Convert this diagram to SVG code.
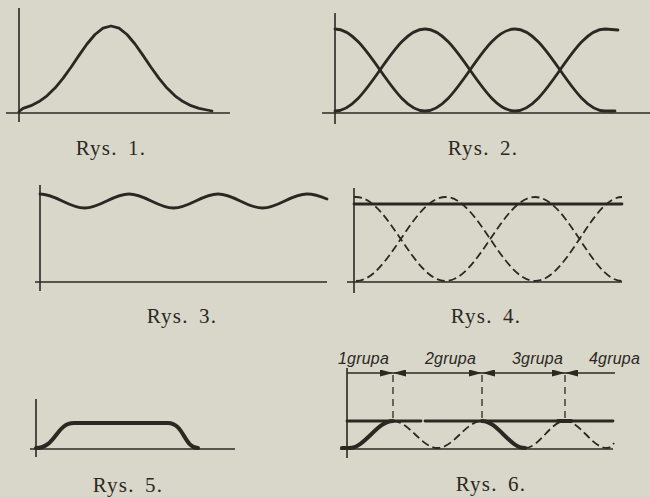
<svg xmlns="http://www.w3.org/2000/svg" width="650" height="497" viewBox="0 0 650 497">
<style>
.bg{fill:#d9d7ca}
.ax{stroke:#2b2823;stroke-width:1.6;fill:none}
.cv{stroke:#2b2823;stroke-width:2.8;fill:none;stroke-linejoin:round;stroke-linecap:round}
.th{stroke:#2b2823;stroke-width:4;fill:none;stroke-linecap:round}
.ds{stroke:#2b2823;stroke-width:1.8;fill:none;stroke-dasharray:8 4}
.dv{stroke:#2b2823;stroke-width:1.3;fill:none;stroke-dasharray:7 5}
.cap{font-family:"Liberation Serif",serif;font-size:21px;fill:#2b2823;text-anchor:middle;letter-spacing:1.2px;word-spacing:4px}
.gr{font-family:"Liberation Sans",sans-serif;font-style:italic;font-size:16px;fill:#2b2823;letter-spacing:0.2px}
</style>
<defs>
<marker id="ah" markerUnits="userSpaceOnUse" markerWidth="13" markerHeight="7" refX="13" refY="3.5" orient="auto">
<path d="M0,0 L13,3.5 L0,7 z" fill="#2b2823"/>
</marker>
</defs>
<rect class="bg" x="0" y="0" width="650" height="497"/>

<g id="rys1">
<line class="ax" x1="19" y1="8" x2="19" y2="122"/>
<line class="ax" x1="6" y1="113" x2="230" y2="113"/>
<path class="cv" d="M19,111.5 L23,108.4 L31,105.7 L39,101.6 L47,95.8 L55,88.1 L63,78.4 L71,67.2 L79,55.4 L87,44 L95,34.5 L103,28.2 L111,26 L119,28.2 L127,34.5 L135,44 L143,55.4 L151,67.2 L159,78.4 L167,88.1 L175,95.8 L183,101.6 L191,105.7 L199,108.4 L207,110 L212,111"/>
<text class="cap" x="111" y="155">Rys. 1.</text>
</g>

<g id="rys2">
<line class="ax" x1="335" y1="13" x2="335" y2="124"/>
<line class="ax" x1="322" y1="113" x2="650" y2="113"/>
<path class="cv" d="M335,29 C367.7,29 392.3,111 425,111 S482.3,29 515,29 S572.3,111 605,111 L615,111"/>
<path class="cv" d="M335,111 C367.7,111 392.3,29 425,29 S482.3,111 515,111 S572.3,29 605,29 L618,30"/>
<text class="cap" x="483" y="155">Rys. 2.</text>
</g>

<g id="rys3">
<line class="ax" x1="40" y1="185" x2="40" y2="291"/>
<line class="ax" x1="35" y1="282" x2="327" y2="282"/>
<path class="cv" d="M40,194 C56.2,194 68.3,208 84.5,208 S112.8,194 129,194 S157.3,208 173.5,208 S201.8,194 218,194 S246.3,208 262.5,208 S290.8,194 307,194 C314,194 320,196 327,199"/>
<text class="cap" x="182" y="323">Rys. 3.</text>
</g>

<g id="rys4">
<line class="ax" x1="354" y1="188" x2="354" y2="293"/>
<line class="ax" x1="347" y1="282" x2="622" y2="282"/>
<line class="cv" x1="354" y1="204" x2="622" y2="204"/>
<path class="ds" d="M354,197 L356,197 C388.5,197 413,281 445.5,281 S502.5,197 535,197 S592,281 622,281"/>
<path class="ds" d="M356,281 C388.5,281 413,197 445.5,197 S502.5,281 535,281 S592,197 622,197"/>
<text class="cap" x="486" y="323">Rys. 4.</text>
</g>

<g id="rys5">
<line class="ax" x1="36" y1="399" x2="36" y2="457"/>
<line class="ax" x1="30" y1="449" x2="235" y2="449"/>
<path class="th" d="M36,448 C56,448 56,423 74,423 L168,423 C184,423 184,448 198,448"/>
<text class="cap" x="128" y="492">Rys. 5.</text>
</g>

<g id="rys6">
<line class="ax" x1="347" y1="368" x2="347" y2="458"/>
<line class="ax" x1="340" y1="449" x2="613" y2="449"/>
<line class="cv" x1="347" y1="421" x2="421" y2="421"/>
<line class="cv" x1="425" y1="421" x2="613" y2="421"/>
<line class="dv" x1="393" y1="375" x2="393" y2="421"/>
<line class="dv" x1="482" y1="375" x2="482" y2="421"/>
<line class="dv" x1="565" y1="375" x2="565" y2="421"/>
<path class="th" d="M342,448 L349,448 C365,448 377,421 393,421"/>
<path class="th" d="M482,421 C497.6,421 509.4,448 525,448"/>
<path class="th" d="M558,421 L571,421"/>
<path class="ds" d="M393,421 C409.2,421 421.3,448 437.5,448 C453.7,448 465.8,421 482,421"/>
<path class="ds" d="M525,448 C539.5,448 550.5,421 565,421 C580.3,421 591.7,448 607,448 C610,448 612,446 614,443"/>
<g id="connectors">
<line class="ax" x1="347" y1="373" x2="393" y2="373" marker-end="url(#ah)"/>
<line class="ax" x1="437" y1="373" x2="393" y2="373" marker-end="url(#ah)"/>
<line class="ax" x1="437" y1="373" x2="482" y2="373" marker-end="url(#ah)"/>
<line class="ax" x1="523" y1="373" x2="482" y2="373" marker-end="url(#ah)"/>
<line class="ax" x1="523" y1="373" x2="565" y2="373" marker-end="url(#ah)"/>
<line class="ax" x1="615" y1="373" x2="565" y2="373" marker-end="url(#ah)"/>
</g>
<text class="gr" x="338" y="364">1grupa</text>
<text class="gr" x="425" y="364">2grupa</text>
<text class="gr" x="512" y="364">3grupa</text>
<text class="gr" x="589" y="364">4grupa</text>
<text class="cap" x="491" y="491">Rys. 6.</text>
</g>
</svg>
